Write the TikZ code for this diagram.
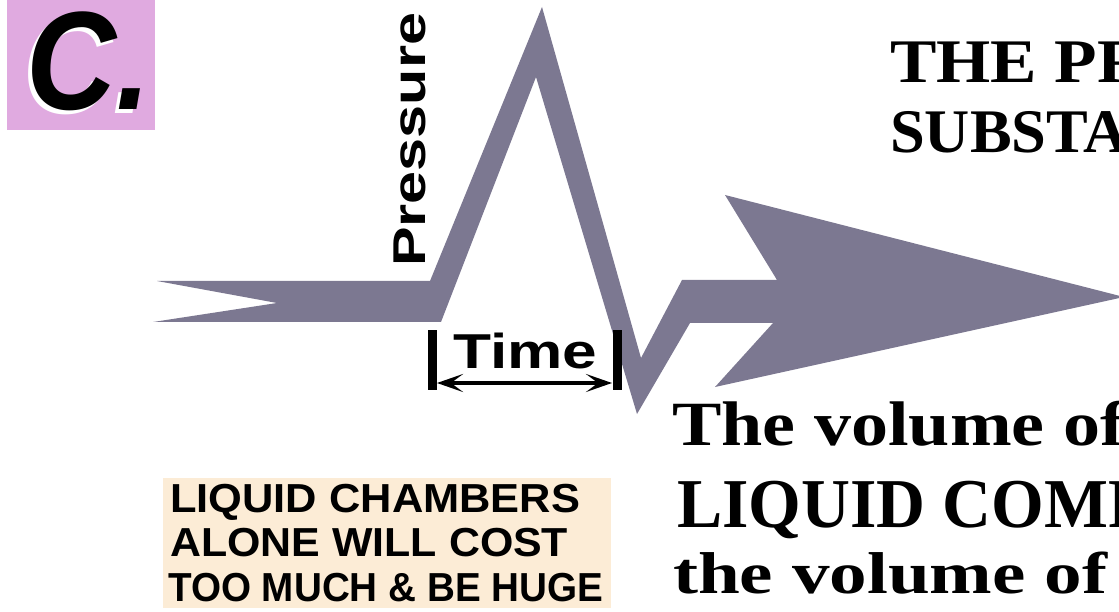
\documentclass[tikz,border=0pt]{standalone}
\usepackage{fontspec}
\setmainfont{Liberation Serif}
\setsansfont{Liberation Sans}
\usepackage{graphicx}
\usetikzlibrary{arrows.meta}
\definecolor{pulsegray}{RGB}{124,120,145}
\definecolor{labelpink}{RGB}{224,170,224}
\definecolor{notebeige}{RGB}{252,236,214}
\newlength\refw
\newcommand\stretchtext[3]{\settowidth{\refw}{#2}\pgfmathsetmacro\sxfac{#1/\refw}\scalebox{\sxfac}[1]{#3}}
\tikzset{
  txt/.style={anchor=base west, inner sep=0pt, text=black},
  headserif/.style={txt, font=\bfseries\fontsize{62}{62}\selectfont},
  notesans/.style={txt, font=\sffamily\bfseries\fontsize{40.5}{40.5}\selectfont},
  biglabel/.style={txt, font=\sffamily\bfseries\itshape\fontsize{140}{140}\selectfont},
  timebar/.style={fill=black, inner sep=0pt, minimum width=9.5pt, minimum height=60pt},
}
\begin{document}
\begin{tikzpicture}[x=1pt,y=-1pt]
\useasboundingbox (0,0) rectangle (1119,612);
\clip (0,0) rectangle (1119,612);
% pink label box
\fill[labelpink] (7,0) rectangle (155,130);
\node[biglabel, text=white] (cshadow) at (22.5,114) {\scalebox{0.89}[1]{C.}};
\node[biglabel] (clabel) at (26.5,110) {\scalebox{0.89}[1]{C.}};
% pulse arrow shape
\fill[pulsegray] (157,281) -- (430,281) -- (542,7) -- (641,358) -- (682,280)
  -- (777,280) -- (725,195) -- (1124,297) -- (715,387) -- (773,323)
  -- (690,323) -- (637,414) -- (536,77) -- (441,322) -- (153,322)
  -- (277,303) -- cycle;
% Pressure label
\node[txt, rotate=90, font=\sffamily\bfseries\fontsize{46}{46}\selectfont] (press) at (425,267) {\stretchtext{254}{Pressure}{Pressure}};
% Time bracket
\node[timebar] (tl) at (432.5,360) {};
\node[timebar] (tr) at (617.5,360) {};
\coordinate (aL) at (437,383);
\coordinate (aR) at (612,383);
\draw[line width=4.5pt, {Stealth[length=26pt,width=18pt,inset=12pt]}-{Stealth[length=26pt,width=18pt,inset=12pt]}] (aL) -- (aR);
\node[txt, font=\sffamily\bfseries\fontsize{49}{49}\selectfont] (time) at (453,368) {\stretchtext{144}{Time}{Time}};
% right heading
\node[headserif] (h1) at (890,83) {\stretchtext{147}{THE}{THE PR}};
\node[headserif] (h2) at (890,153) {\stretchtext{198}{SUBST}{SUBSTA}};
% lower right text
\node[txt, font=\bfseries\fontsize{63}{63}\selectfont] (v1) at (672,445) {\stretchtext{428}{The volume o}{The volume of}};
\node[txt, font=\bfseries\fontsize{70}{70}\selectfont] (v2) at (677,527) {\stretchtext{431}{LIQUID COM}{LIQUID COMP}};
\node[txt, font=\bfseries\fontsize{59}{59}\selectfont] (v3) at (673,593) {\stretchtext{434}{the volume of}{the volume of}};
% beige note
\fill[notebeige] (163,478) rectangle (611,608);
\node[notesans] (n1) at (170,512) {\stretchtext{410}{LIQUID CHAMBERS}{LIQUID CHAMBERS}};
\node[notesans] (n2) at (170,556) {\stretchtext{398}{ALONE WILL COST}{ALONE WILL COST}};
\node[notesans] (n3) at (168,601) {\stretchtext{435}{TOO MUCH \& BE HUGE}{TOO MUCH \& BE HUGE}};
\end{tikzpicture}
\end{document}
